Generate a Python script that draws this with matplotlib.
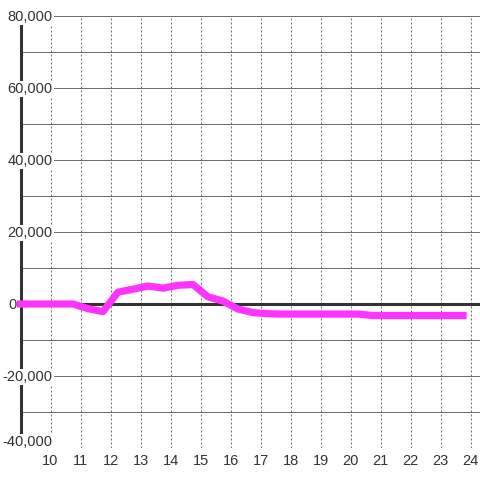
import matplotlib
matplotlib.use("Agg")
import matplotlib.pyplot as plt
import matplotlib.transforms as mtransforms

plt.rcParams['font.family'] = ['Liberation Sans', 'DejaVu Sans']

# half-hour samples
hours = [9.0, 9.25, 9.75, 10.25, 10.75, 11.25, 11.75, 12.25, 12.75, 13.25,
         13.75, 14.25, 14.75, 15.25, 15.75, 16.25, 16.75, 17.25, 17.75,
         18.25, 18.75, 19.25, 19.75, 20.25, 20.75, 21.25, 21.75, 22.25,
         22.75, 23.25, 23.75]
values = [0, 0, 0, 0, 0, -1300, -2100, 3300, 4100, 5000,
          4400, 5200, 5400, 2000, 800, -1400, -2400, -2700, -2800,
          -2800, -2800, -2800, -2800, -2800, -3200, -3200, -3200, -3200,
          -3200, -3200, -3200]

x_ticks = list(range(10, 25))
y_ticks = [80000, 60000, 40000, 20000, 0, -20000, -40000]
y_labels = ['80,000', '60,000', '40,000', '20,000', '0', '-20,000', '-40,000']

text_col = '#333333'
grid_col = '#707070'

fig = plt.figure(figsize=(4.8, 4.8), dpi=100)
ax = fig.add_axes([20.5 / 480, 32 / 480, 459.5 / 480, 432 / 480])
ax.set_xlim(9, 9 + 459.5 / 30)
ax.set_ylim(-40000, 80000)

for s in ['top', 'right', 'bottom']:
    ax.spines[s].set_visible(False)
ax.spines['left'].set_linewidth(2.2)
ax.spines['left'].set_color(text_col)
ax.spines['left'].set_zorder(2.6)

# grid
for v in range(-40000, 80001, 10000):
    ax.axhline(v, color=grid_col, lw=0.72, zorder=1)
for h in x_ticks:
    ax.axvline(h, color=grid_col, lw=0.72, dashes=(2, 2), zorder=1)
ax.axhline(0, color=text_col, lw=2.2, zorder=2)

ax.plot(hours, values, color='#ff33ff', lw=5.2, solid_capstyle='projecting',
        solid_joinstyle='round', zorder=4, clip_on=False)

ax.set_xticks(x_ticks)
ax.set_xticklabels([str(t) for t in x_ticks])
ax.tick_params(axis='x', length=0, pad=4.5, labelsize=10.5, labelcolor=text_col)
ax.set_yticks([])

for v, lab in zip(y_ticks, y_labels):
    dy = 5.5 if v == -40000 else -0.7
    tr = mtransforms.offset_copy(ax.transData, fig=fig, x=0, y=dy, units='dots')
    if v == 0:
        ax.text(9 - 4 / 30, v, lab, ha='right', va='center', fontsize=10.5,
                color=text_col, transform=tr, clip_on=False, zorder=5)
    else:
        ax.text(9 + 32 / 30, v, lab, ha='right', va='center', fontsize=10.5,
                color=text_col, transform=tr, clip_on=False, zorder=5,
                bbox=dict(facecolor='white', edgecolor='none', pad=0.8))

fig.savefig('out.png', dpi=100, facecolor='white')
